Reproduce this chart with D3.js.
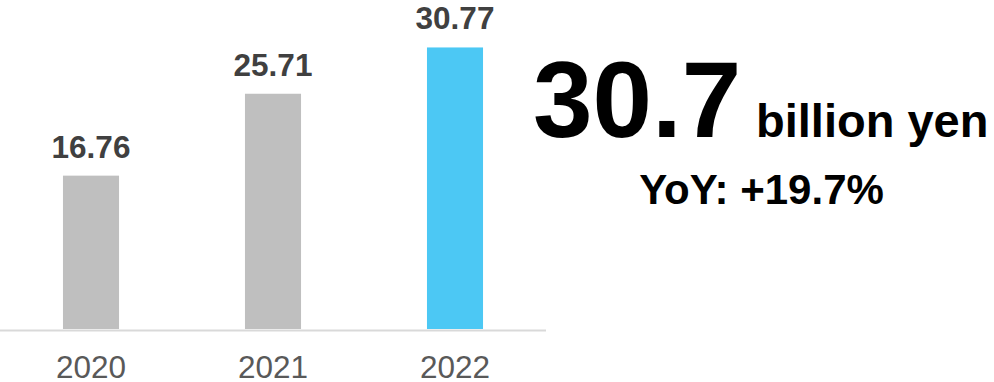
<!DOCTYPE html>
<html>
<head>
<meta charset="utf-8">
<script src="https://cdn.jsdelivr.net/npm/d3@7"></script>
<style>
  html, body { margin: 0; padding: 0; background: #fff; }
  svg { display: block; font-family: "Liberation Sans", Arial, sans-serif; }
</style>
</head>
<body>
<svg id="chart" width="994" height="382"></svg>
<script>
// Annual values, billion yen
const years = ["2020", "2021", "2022"];
const values = [16.76, 25.71, 30.77];
const barColors = ["#bfbfbf", "#bfbfbf", "#4cc8f4"];

// Headline figures for the latest year
const headlineValue = "30.7";
const headlineUnit = "billion yen";
const headlineChange = "YoY: +19.7%";

const svg = d3.select("#chart");
const baseline = 329;

const x = d3.scaleBand()
  .domain(years)
  .range([0, 546])
  .paddingInner(0.692)
  .paddingOuter(0.346);

const y = d3.scaleLinear()
  .domain([0, 35])
  .range([baseline, baseline - 35 * 9.15]);

// Bars
svg.append("g").selectAll("rect")
  .data(years)
  .join("rect")
  .attr("x", d => x(d))
  .attr("width", x.bandwidth())
  .attr("y", (d, i) => y(values[i]))
  .attr("height", (d, i) => y(0) - y(values[i]))
  .attr("fill", (d, i) => barColors[i]);

// Value labels above bars
svg.append("g").selectAll("text")
  .data(years)
  .join("text")
  .attr("x", d => x(d) + x.bandwidth() / 2)
  .attr("y", (d, i) => y(values[i]) - 18)
  .attr("text-anchor", "middle")
  .attr("font-size", 31.5)
  .attr("font-weight", "bold")
  .attr("fill", "#404040")
  .text((d, i) => values[i].toFixed(2));

// Category axis
const axis = svg.append("g")
  .attr("transform", `translate(0,${baseline + 1.5})`)
  .call(d3.axisBottom(x).tickSize(0).tickPadding(0));
axis.select(".domain")
  .attr("d", "M0,0H546")
  .attr("stroke", "#d9d9d9")
  .attr("stroke-width", 2);
axis.selectAll(".tick text")
  .attr("dy", null)
  .attr("y", 47)
  .attr("font-size", 31.5)
  .attr("font-family", "Liberation Sans, Arial, sans-serif")
  .attr("fill", "#595959");

// Headline
svg.append("text")
  .attr("x", 533)
  .attr("y", 137)
  .attr("font-size", 107)
  .attr("font-weight", "bold")
  .attr("fill", "#000")
  .text(headlineValue);

svg.append("text")
  .attr("x", 756)
  .attr("y", 137)
  .attr("font-size", 47)
  .attr("font-weight", "bold")
  .attr("fill", "#000")
  .text(headlineUnit);

svg.append("text")
  .attr("x", 761.5)
  .attr("y", 204)
  .attr("text-anchor", "middle")
  .attr("font-size", 42)
  .attr("font-weight", "bold")
  .attr("fill", "#000")
  .text(headlineChange);
</script>
</body>
</html>
